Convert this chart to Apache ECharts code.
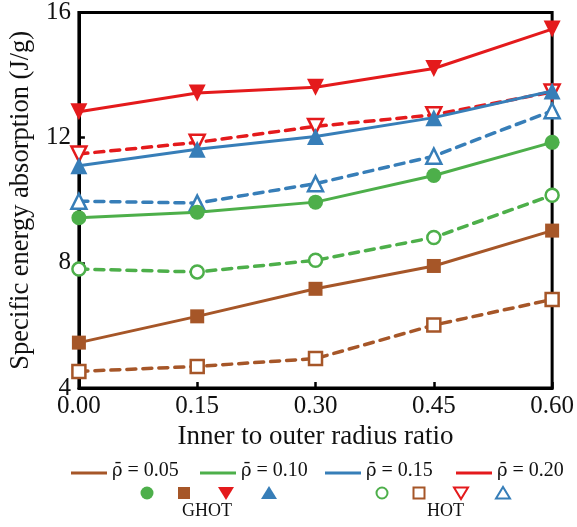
<!DOCTYPE html>
<html><head><meta charset="utf-8">
<script src="https://cdn.jsdelivr.net/npm/echarts@6/dist/echarts.min.js"></script>
<style>html,body{margin:0;padding:0;background:#fff}#c{width:577px;height:527px}</style>
</head><body><div id="c"></div>
<script>
const ratios = [0.00, 0.15, 0.30, 0.45, 0.60];
const xTicks = ['0.00','0.15','0.30','0.45','0.60'];
const ghot005 = [5.45, 6.29, 7.17, 7.90, 9.03];
const ghot010 = [9.44, 9.62, 9.94, 10.79, 11.85];
const ghot015 = [11.10, 11.63, 12.04, 12.64, 13.49];
const ghot020 = [12.83, 13.43, 13.61, 14.21, 15.47];
const hot005 = [4.53, 4.69, 4.94, 6.01, 6.83];
const hot010 = [7.80, 7.71, 8.08, 8.81, 10.16];
const hot015 = [9.97, 9.91, 10.53, 11.41, 12.86];
const hot020 = [11.48, 11.85, 12.36, 12.73, 13.46];
const rhoValues = ['0.05','0.10','0.15','0.20'];

const C = {b:'#a65628', g:'#4daf4a', u:'#377eb8', r:'#e41a1c'};
const FONT = 'Liberation Serif';

function pts(arr){ return ratios.map((x,i)=>[x, arr[i]]); }
function ser(name, arr, color, symbol, rotate, filled, dashed, size){
  return {
    name, type:'line', data: pts(arr), clip:false,
    symbol, symbolSize:size, symbolRotate: rotate,
    showAllSymbol:true,
    lineStyle:{color, width: dashed?3.5:3, type: dashed?[9,7]:'solid', cap: dashed?'round':'butt'},
    itemStyle: filled ? {color, borderColor:color, borderWidth:0} : {color:'#fff', borderColor:color, borderWidth:2.5},
    z: filled?3:2
  };
}

const series = [
  ser('HOT 0.05', hot005, C.b, 'rect', 0, false, true, 13),
  ser('HOT 0.10', hot010, C.g, 'circle', 0, false, true, 13),
  ser('HOT 0.15', hot015, C.u, 'triangle', 0, false, true, 15),
  ser('HOT 0.20', hot020, C.r, 'triangle', 180, false, true, 15),
  ser('GHOT 0.05', ghot005, C.b, 'rect', 0, true, false, 14),
  ser('GHOT 0.10', ghot010, C.g, 'circle', 0, true, false, 15),
  ser('GHOT 0.15', ghot015, C.u, 'triangle', 0, true, false, 17),
  ser('GHOT 0.20', ghot020, C.r, 'triangle', 180, true, false, 17)
];

// legend graphics
const g = [];
const lineItems = [[71,C.b],[200,C.g],[325,C.u],[456,C.r]];
lineItems.forEach((it,i)=>{
  g.push({type:'line', shape:{x1:it[0], y1:473, x2:it[0]+36, y2:473}, style:{stroke:it[1], lineWidth:3}});
  g.push({type:'text', left:it[0]+41, top:461, style:{
    text:'{r|ρ̄} = ' + rhoValues[i],
    rich:{r:{fontFamily:'DejaVu Serif', fontSize:18, fill:'#111'}},
    font:'20px "'+FONT+'"', fill:'#111'}});
});
function mk(kind, x, color, filled){
  const st = filled ? {fill:color, stroke:color, lineWidth:0} : {fill:'#fff', stroke:color, lineWidth:2};
  const y = 493;
  if(kind==='circle') g.push({type:'circle', shape:{cx:x, cy:y, r:filled?6.5:5.5}, style:st});
  if(kind==='rect') g.push({type:'rect', shape:{x:x-(filled?6:5.5), y:y-(filled?6:5.5), width:filled?12:11, height:filled?12:11}, style:st});
  if(kind==='down') g.push({type:'polygon', shape:{points:filled?[[x-8,y-6],[x+8,y-6],[x,y+7]]:[[x-7,y-5.5],[x+7,y-5.5],[x,y+6]]}, style:st});
  if(kind==='up') g.push({type:'polygon', shape:{points:filled?[[x-8,y+6],[x+8,y+6],[x,y-7]]:[[x-7,y+5.5],[x+7,y+5.5],[x,y-6]]}, style:st});
}
mk('circle',147,C.g,true); mk('rect',184,C.b,true); mk('down',226,C.r,true); mk('up',269,C.u,true);
mk('circle',382,C.g,false); mk('rect',419,C.b,false); mk('down',461,C.r,false); mk('up',503,C.u,false);
g.push({type:'text', left:182, top:502, style:{text:'GHOT', font:'18px "'+FONT+'"', fill:'#111'}});
g.push({type:'text', left:427, top:502, style:{text:'HOT', font:'18px "'+FONT+'"', fill:'#111'}});

const chart = echarts.init(document.getElementById('c'), null, {renderer:'canvas'});
chart.setOption({
  animation:false,
  backgroundColor:'#fff',
  textStyle:{fontFamily:FONT},
  grid:{left:78, right:24, top:6, bottom:139, show:true, borderColor:'#000', borderWidth:3, backgroundColor:'transparent'},
  xAxis:{
    type:'value', min:0, max:0.6, interval:0.15,
    name:'Inner to outer radius ratio', nameLocation:'middle', nameGap:34,
    nameTextStyle:{fontFamily:FONT, fontSize:27, color:'#111'},
    axisLine:{lineStyle:{color:'#000', width:3}},
    axisTick:{inside:true, length:6, lineStyle:{color:'#000', width:2.5}},
    axisLabel:{fontFamily:FONT, fontSize:25, color:'#111', margin:6,
      formatter:(v)=>{const i=Math.round(v/0.15); return xTicks[i];}},
    splitLine:{show:false}
  },
  yAxis:{
    type:'value', min:4, max:16, interval:4,
    name:'Specific energy absorption (J/g)', nameLocation:'middle', nameGap:36,
    nameTextStyle:{fontFamily:FONT, fontSize:26.5, color:'#111'},
    axisLine:{lineStyle:{color:'#000', width:3}},
    axisTick:{inside:true, length:6, lineStyle:{color:'#000', width:2.5}},
    axisLabel:{fontFamily:FONT, fontSize:25, color:'#111', margin:8},
    splitLine:{show:false}
  },
  series,
  graphic:g
});
</script></body></html>
